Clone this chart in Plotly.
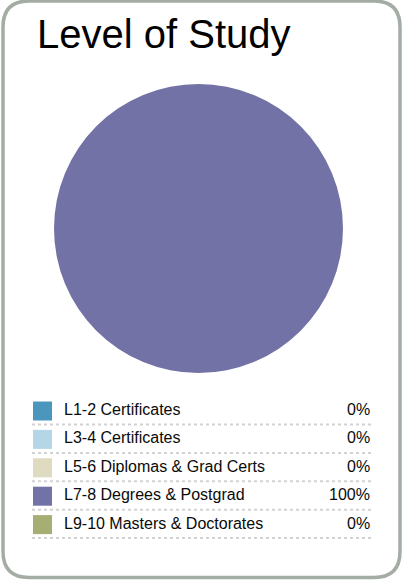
import plotly.graph_objects as go

title = "Level of Study"
categories = ["L1-2 Certificates", "L3-4 Certificates", "L5-6 Diplomas & Grad Certs",
              "L7-8 Degrees & Postgrad", "L9-10 Masters & Doctorates"]
values = [0, 0, 0, 100, 0]
colors = ["#4b96bd", "#b4d6e6", "#dedbc1", "#7272a6", "#a6ae74"]

W, H = 405, 580
total = sum(values)
pct_labels = [f"{round(v / total * 100)}%" for v in values]

fig = go.Figure()

# pie
fig.add_trace(go.Pie(
    labels=categories, values=values, sort=False, direction="clockwise",
    marker=dict(colors=colors, line=dict(width=0)),
    textinfo="none", hoverinfo="label+percent", showlegend=False,
    domain=dict(x=[54 / W, 343 / W], y=[1 - 373 / H, 1 - 84 / H]),
))

# legend table (pixel-like hidden axis)
row_y0, row_dy = 409.5, 28.4
rows_y = [row_y0 + i * row_dy for i in range(len(categories))]

fig.add_trace(go.Scatter(
    x=[42.5] * len(categories), y=[y + 1.5 for y in rows_y], mode="markers",
    marker=dict(symbol="square", size=19, color=colors, line=dict(width=0)),
    hoverinfo="skip", showlegend=False,
))

for i, (cat, pct, y) in enumerate(zip(categories, pct_labels, rows_y)):
    fig.add_annotation(x=62, y=y, xref="x", yref="y", text=cat, showarrow=False,
                       xanchor="left", yanchor="middle",
                       font=dict(family="Liberation Sans, Arial", size=16, color="#0a0a0a"))
    fig.add_annotation(x=372, y=y, xref="x", yref="y", text=pct, showarrow=False,
                       xanchor="right", yanchor="middle",
                       font=dict(family="Liberation Sans, Arial", size=16, color="#0a0a0a"))
    fig.add_shape(type="line", x0=32, x1=373, y0=y + 15, y1=y + 15, xref="x", yref="y",
                  line=dict(color="#d2d2d2", width=2, dash="dot"))

# title
fig.add_annotation(x=35, y=34, xref="x", yref="y", text=title, showarrow=False,
                   xanchor="left", yanchor="middle",
                   font=dict(family="Liberation Sans, Arial", size=40, color="#000000"))

# card border
r = 26
x0, x1, y0, y1 = 3, 400, 1, 577.5
path = (f"M {x0 + r},{y0} L {x1 - r},{y0} Q {x1},{y0} {x1},{y0 + r} "
        f"L {x1},{y1 - r} Q {x1},{y1} {x1 - r},{y1} L {x0 + r},{y1} "
        f"Q {x0},{y1} {x0},{y1 - r} L {x0},{y0 + r} Q {x0},{y0} {x0 + r},{y0} Z")
fig.add_shape(type="path", path=path, xref="x", yref="y",
              line=dict(color="#a4ada4", width=3.5), layer="below")

fig.update_layout(
    width=W, height=H, margin=dict(l=0, r=0, t=0, b=0),
    paper_bgcolor="white", plot_bgcolor="rgba(0,0,0,0)",
    xaxis=dict(range=[0, W], visible=False, fixedrange=True),
    yaxis=dict(range=[H, 0], visible=False, fixedrange=True),
    showlegend=False,
)

fig.write_html("out.html", config={"displayModeBar": False},
               post_script="document.body.style.margin='0';document.body.style.overflow='hidden';")
